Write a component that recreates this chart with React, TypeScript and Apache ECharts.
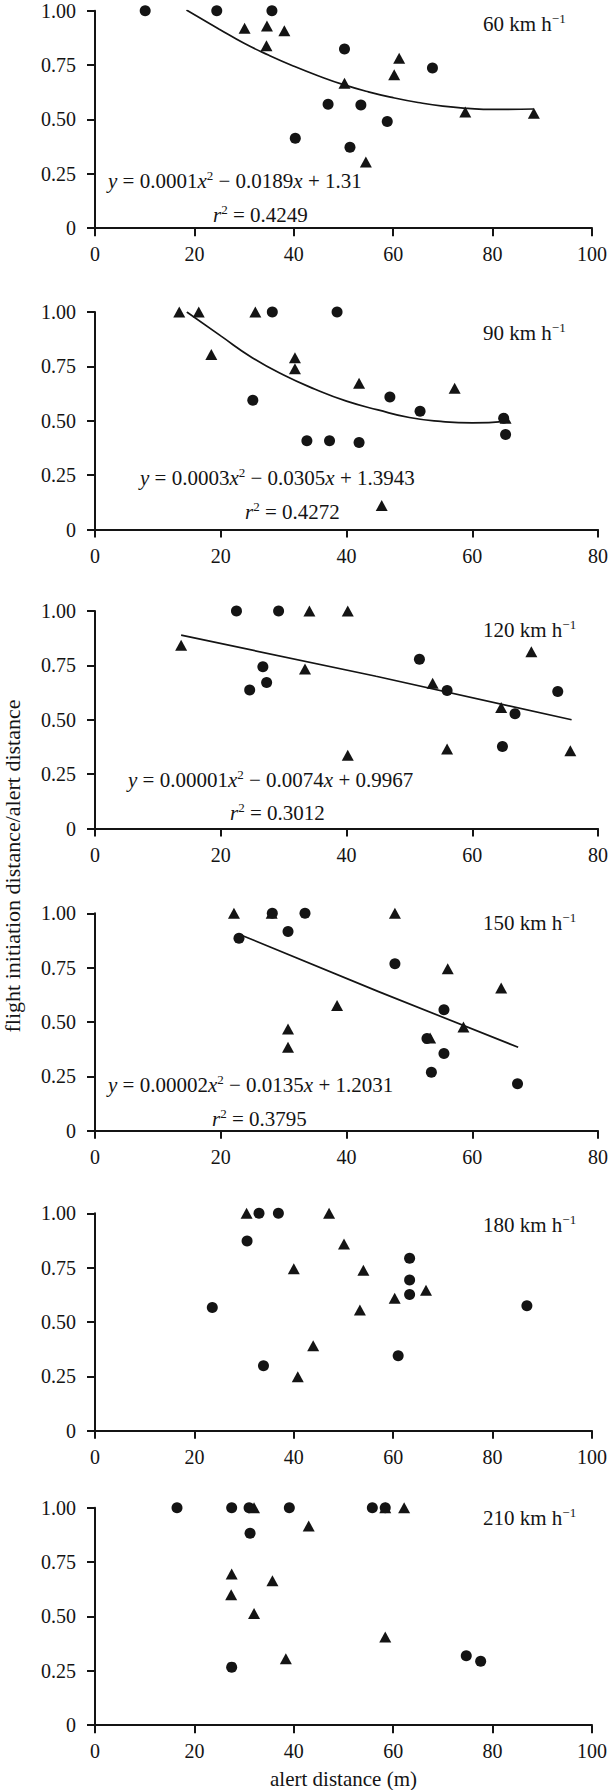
import React, { useEffect, useRef } from "react";
import * as echarts from "echarts";

// ---- data ----
const speedLabels = ["60", "90", "120", "150", "180", "210"];
const xMaxes = [100, 80, 80, 80, 100, 100];
const xTickStep = 20;
const yTickStep = 0.25;

const p60Circles = [[10.1, 1.0], [24.5, 1.0], [35.6, 1.0], [50.2, 0.824], [67.9, 0.737], [46.9, 0.57], [53.5, 0.566], [58.8, 0.491], [40.3, 0.414], [51.3, 0.372]];
const p60Triangles = [[30.1, 0.919], [34.6, 0.93], [38.1, 0.908], [34.5, 0.839], [50.2, 0.667], [61.2, 0.781], [60.2, 0.705], [54.5, 0.304], [74.5, 0.534], [88.3, 0.529]];
const p60Trend = [[18.4, 1.003], [25, 0.915], [30, 0.85], [35, 0.795], [40, 0.745], [45, 0.7], [50, 0.66], [55, 0.627], [60, 0.6], [65, 0.578], [70, 0.561], [75, 0.551], [80, 0.546], [88.3, 0.548]];

const p90Circles = [[28.2, 1.0], [38.5, 1.0], [25.1, 0.594], [46.9, 0.609], [51.7, 0.544], [65.0, 0.511], [65.3, 0.437], [33.7, 0.408], [37.3, 0.408], [42.0, 0.4]];
const p90Triangles = [[13.4, 1.0], [16.5, 1.0], [25.5, 1.0], [18.5, 0.805], [31.8, 0.79], [31.8, 0.739], [42.0, 0.672], [57.2, 0.649], [65.3, 0.511], [45.6, 0.11]];
const p90Trend = [[14.6, 1.0], [20, 0.89], [25, 0.79], [30, 0.71], [35, 0.645], [40, 0.59], [45, 0.55], [50, 0.515], [55, 0.497], [60, 0.49], [65.3, 0.497]];

const p120Circles = [[22.5, 1.0], [29.2, 1.0], [26.7, 0.744], [27.3, 0.671], [24.6, 0.637], [51.6, 0.778], [56.0, 0.634], [66.8, 0.528], [64.8, 0.377], [73.6, 0.63]];
const p120Triangles = [[34.1, 1.0], [40.2, 1.0], [13.7, 0.843], [33.4, 0.733], [53.7, 0.668], [64.6, 0.556], [69.4, 0.813], [56.0, 0.366], [40.2, 0.337], [75.6, 0.358]];
const p120Trend = [[13.7, 0.889], [44.7, 0.7], [75.8, 0.5]];

const p150Circles = [[28.2, 1.0], [33.4, 1.0], [22.9, 0.885], [30.7, 0.916], [47.7, 0.768], [55.5, 0.557], [52.8, 0.424], [55.5, 0.355], [53.5, 0.269], [67.2, 0.216]];
const p150Triangles = [[22.1, 1.0], [28.1, 1.0], [47.7, 1.0], [56.1, 0.745], [64.6, 0.656], [38.5, 0.576], [30.7, 0.468], [30.7, 0.384], [53.3, 0.427], [58.6, 0.477]];
const p150Trend = [[22.9, 0.904], [45.1, 0.64], [67.3, 0.384]];

const p180Circles = [[33.0, 1.0], [36.9, 1.0], [30.6, 0.873], [23.6, 0.567], [33.9, 0.299], [63.3, 0.793], [63.3, 0.693], [63.3, 0.627], [61.0, 0.345], [86.9, 0.575]];
const p180Triangles = [[30.5, 1.0], [47.1, 1.0], [50.1, 0.859], [40.0, 0.745], [54.0, 0.738], [60.3, 0.609], [66.6, 0.646], [53.3, 0.555], [43.9, 0.391], [40.8, 0.248]];

const p210Circles = [[16.5, 1.0], [27.5, 1.0], [31.0, 1.0], [39.1, 1.0], [55.8, 1.0], [58.4, 1.0], [31.2, 0.883], [27.5, 0.267], [74.7, 0.319], [77.6, 0.294]];
const p210Triangles = [[32.0, 1.0], [58.4, 1.0], [62.2, 1.0], [43.0, 0.916], [27.5, 0.695], [35.7, 0.664], [27.4, 0.6], [32.0, 0.514], [58.4, 0.406], [38.4, 0.305]];

const equations = [
  { a: "0.0001", b: "0.0189", c: "1.31", r2: "0.4249" },
  { a: "0.0003", b: "0.0305", c: "1.3943", r2: "0.4272" },
  { a: "0.00001", b: "0.0074", c: "0.9967", r2: "0.3012" },
  { a: "0.00002", b: "0.0135", c: "1.2031", r2: "0.3795" },
];

const xTitle = "alert distance (m)";
const yTitle = "flight initiation distance/alert distance";

const panelCircles = [p60Circles, p90Circles, p120Circles, p150Circles, p180Circles, p210Circles];
const panelTriangles = [p60Triangles, p90Triangles, p120Triangles, p150Triangles, p180Triangles, p210Triangles];
const panelTrends: (number[][] | null)[] = [p60Trend, p90Trend, p120Trend, p150Trend, null, null];

// ---- layout ----
const W = 611;
const H = 1790;
const FONT = "Liberation Serif";
const INK = "#141414";
const gridTops = [10.7, 312, 611, 913.3, 1213.3, 1507.7];
const gridH = 217.5;
const gridLeft = 95;
const labelTops = [24, 333, 630, 923, 1225, 1518];
const eqPos = [
  { ex: 108, ey: 181, rx: 213, ry: 215 },
  { ex: 140, ey: 478, rx: 245, ry: 512 },
  { ex: 128, ey: 780, rx: 230, ry: 813 },
  { ex: 108, ey: 1085, rx: 212, ry: 1119 },
];

const rich: any = {
  i: { fontStyle: "italic", fontFamily: FONT, fontSize: 21, fill: INK, lineHeight: 24 },
  s: { fontFamily: FONT, fontSize: 13, fill: INK, verticalAlign: "top", lineHeight: 14 },
  n: { fontFamily: FONT, fontSize: 21, fill: INK, lineHeight: 24 },
};

export default function App() {
  const ref = useRef<HTMLDivElement>(null);
  useEffect(() => {
    if (!ref.current) return;
    const chart = echarts.init(ref.current, undefined, { renderer: "svg", width: W, height: H });
    const grids: any[] = [];
    const xAxes: any[] = [];
    const yAxes: any[] = [];
    const series: any[] = [];
    const axisLine = { show: true, onZero: false, lineStyle: { color: INK, width: 2 } };
    const axisTick = { show: true, length: 8, lineStyle: { color: INK, width: 2 } };
    for (let i = 0; i < 6; i++) {
      const width = xMaxes[i] === 100 ? 497 : 503.5;
      grids.push({ left: gridLeft, top: gridTops[i], width, height: gridH, containLabel: false });
      xAxes.push({
        gridIndex: i, type: "value", min: 0, max: xMaxes[i], interval: xTickStep,
        axisLine, axisTick, splitLine: { show: false },
        axisLabel: { color: INK, fontSize: 20, fontFamily: FONT, margin: 16 },
      });
      yAxes.push({
        gridIndex: i, type: "value", min: 0, max: 1, interval: yTickStep,
        axisLine, axisTick, splitLine: { show: false },
        axisLabel: {
          color: INK, fontSize: 20, fontFamily: FONT, margin: 19,
          formatter: (v: number) => (v === 0 ? "0" : v.toFixed(2)),
        },
      });
      series.push({
        type: "scatter", xAxisIndex: i, yAxisIndex: i, data: panelTriangles[i],
        symbol: "triangle", symbolSize: [12, 11], itemStyle: { color: INK, opacity: 1 }, z: 3,
      });
      series.push({
        type: "scatter", xAxisIndex: i, yAxisIndex: i, data: panelCircles[i],
        symbol: "circle", symbolSize: 11, itemStyle: { color: INK, opacity: 1 }, z: 4,
      });
      const tr = panelTrends[i];
      if (tr) {
        series.push({
          type: "line", xAxisIndex: i, yAxisIndex: i, data: tr, smooth: true,
          showSymbol: false, symbol: "none", lineStyle: { color: INK, width: 1.7 }, z: 2,
        });
      }
    }
    const graphic: any[] = [];
    speedLabels.forEach((s, i) => {
      graphic.push({
        type: "text", x: 483, y: labelTops[i],
        style: { text: `{n|${s} km h}{s|−1}`, rich, fill: INK, verticalAlign: "middle", align: "left" },
      });
    });
    equations.forEach((e, i) => {
      const p = eqPos[i];
      graphic.push({
        type: "text", x: p.ex, y: p.ey,
        style: {
          text: `{i|y}{n| = ${e.a}}{i|x}{s|2}{n| − ${e.b}}{i|x}{n| + ${e.c}}`,
          rich, verticalAlign: "middle", align: "left",
        },
      });
      graphic.push({
        type: "text", x: p.rx, y: p.ry,
        style: { text: `{i|r}{s|2}{n| = ${e.r2}}`, rich, verticalAlign: "middle", align: "left" },
      });
    });
    graphic.push({
      type: "text", x: 343.5, y: 1779,
      style: { text: xTitle, fontFamily: FONT, fontSize: 21, fill: INK, align: "center", verticalAlign: "middle" },
    });
    graphic.push({
      type: "text", x: 12.5, y: 866, rotation: Math.PI / 2,
      style: { text: yTitle, fontFamily: FONT, fontSize: 22, fill: INK, align: "center", verticalAlign: "middle" },
    });
    chart.setOption({
      animation: false,
      backgroundColor: "#fff",
      textStyle: { fontFamily: FONT },
      grid: grids, xAxis: xAxes, yAxis: yAxes, series, graphic,
    });
    return () => chart.dispose();
  }, []);
  return <div ref={ref} style={{ position: "absolute", left: 0, top: 0, width: W, height: H }} />;
}
